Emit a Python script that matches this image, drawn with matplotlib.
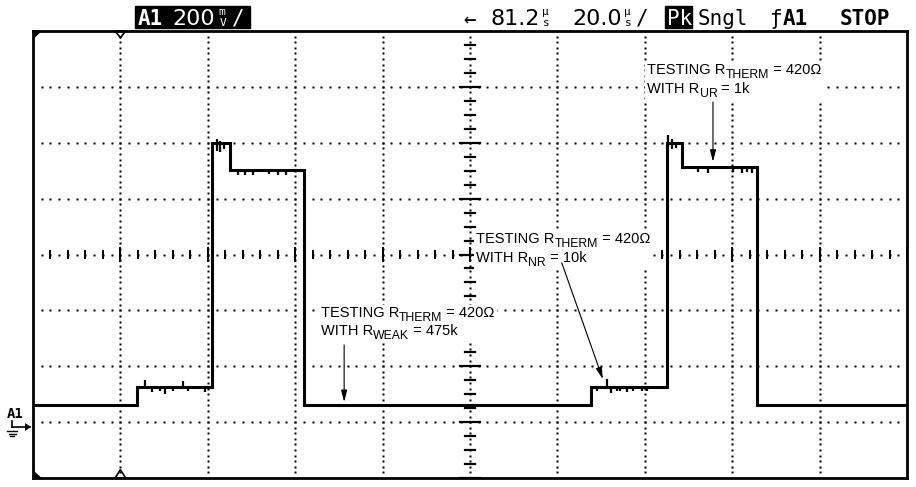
import numpy as np
import matplotlib
matplotlib.use("Agg")
import matplotlib.pyplot as plt
from matplotlib.patches import Rectangle, Polygon
from matplotlib.lines import Line2D
from matplotlib.transforms import IdentityTransform, Bbox

W, H = 916, 487

# trace, in screen divisions (10 x 8)
trace_x = [0, 1.19, 1.19, 2.05, 2.05, 2.25, 2.25, 3.10, 3.10, 6.38, 6.38, 7.25, 7.25, 7.43, 7.43, 8.28, 8.28, 10]
trace_y = [1.31, 1.31, 1.62, 1.62, 5.99, 5.99, 5.52, 5.52, 1.31, 1.31, 1.63, 1.63, 6.00, 6.00, 5.57, 5.57, 1.31, 1.31]

# glitches on the plateaus
spike_x = [1.28, 1.36, 1.45, 1.51, 1.60, 1.72, 1.77, 1.97,
           2.10, 2.14, 2.18, 2.34, 2.43, 2.52, 2.70, 2.80, 2.89,
           6.45, 6.57, 6.61, 6.68, 6.72, 6.80, 6.87, 6.97, 7.03,
           7.27, 7.31, 7.36, 7.61, 7.72, 8.01, 8.11, 8.17, 8.23]
spike_lo = [1.62, 1.54, 1.55, 1.50, 1.56, 1.62, 1.55, 1.54,
            5.86, 5.84, 5.88, 5.42, 5.42, 5.42, 5.44, 5.42, 5.43,
            1.55, 1.63, 1.53, 1.56, 1.55, 1.54, 1.56, 1.55, 1.55,
            5.90, 5.88, 5.90, 5.47, 5.46, 5.48, 5.46, 5.47, 5.46]
spike_hi = [1.76, 1.62, 1.62, 1.62, 1.62, 1.74, 1.62, 1.62,
            6.06, 6.04, 6.02, 5.52, 5.52, 5.52, 5.52, 5.52, 5.52,
            1.63, 1.78, 1.63, 1.63, 1.63, 1.63, 1.63, 1.63, 1.63,
            6.14, 6.06, 6.02, 5.57, 5.57, 5.57, 5.57, 5.57, 5.57]

# annotations: (main, subscript, tail) for each line, text x, baselines, arrow start / end
note_lines = [
    [("TESTING R", "THERM", " = 420Ω"), ("WITH R", "WEAK", " = 475k")],
    [("TESTING R", "THERM", " = 420Ω"), ("WITH R", "NR", " = 10k")],
    [("TESTING R", "THERM", " = 420Ω"), ("WITH R", "UR", " = 1k")],
]
note_x = [3.29, 5.07, 7.03]
note_base = [(2.88, 2.56), (4.20, 3.86), (7.23, 6.89)]
arrow_from = [(3.56, 2.38), (6.05, 3.85), (7.78, 6.73)]
arrow_to = [(3.56, 1.36), (6.52, 1.77), (7.78, 5.66)]

NOTE_FONT = ["Liberation Sans Narrow", "Liberation Sans", "DejaVu Sans"]
SCOPE_FONT = ["DejaVu Sans Mono", "DejaVu Sans"]


def fp(x, y):
    # pixel position -> figure fraction
    return x / W, 1 - y / H


fig = plt.figure(figsize=(W / 100, H / 100), dpi=100)
ax = fig.add_axes([33 / W, (H - 478) / H, 874 / W, 447 / H])
ax.set_xlim(0, 10)
ax.set_ylim(0, 8)
ax.set_xticks([])
ax.set_yticks([])
for s in ax.spines.values():
    s.set_linewidth(2)

# dotted graticule
dot = dict(ls="none", marker="s", ms=1.5, color="black", mec="none")
for k in range(1, 10):
    ys = np.arange(1, 80) / 10
    ax.plot(np.full(len(ys), k), ys, **dot)
for j in range(1, 8):
    xs = np.arange(1, 100) / 10
    ax.plot(xs, np.full(len(xs), j), **dot)

# centre axes with minor ticks
for i, x in enumerate(np.arange(0, 10.01, 0.2)):
    h = 0.11 if i % 5 == 0 else 0.06
    ax.plot([x, x], [4 - h, 4 + h], color="black", lw=1.4)
for i, y in enumerate(np.arange(0, 8.01, 0.25)):
    w = 0.12 if i % 4 == 0 else 0.055
    ax.plot([5 - w, 5 + w], [y, y], color="black", lw=1.6)

# trigger and corner markers
ax.add_patch(Polygon([(0.94, 8), (1.06, 8), (1, 7.88)], closed=True, fc="white", ec="black", lw=1.2, clip_on=False))
ax.add_patch(Polygon([(0.94, 0), (1.06, 0), (1, 0.15)], closed=True, fc="white", ec="black", lw=1.2, clip_on=False))
ax.add_patch(Polygon([(0, 8), (0.1, 8), (0, 7.85)], closed=True, fc="black", ec="none"))
ax.add_patch(Polygon([(0, 0), (0.1, 0), (0, 0.14)], closed=True, fc="black", ec="none"))

# the trace
ax.plot(trace_x, trace_y, color="black", lw=2.2, solid_joinstyle="miter")
ax.vlines(spike_x, spike_lo, spike_hi, color="black", lw=1.6)

# annotations, subscripts placed by hand so they stay almost full size
r = fig.canvas.get_renderer()
ident = IdentityTransform()
for lines, tx, bases, a0, a1 in zip(note_lines, note_x, note_base, arrow_from, arrow_to):
    boxes = []
    for (main, sub, tail), b in zip(lines, bases):
        px, py = ax.transData.transform((tx, b))
        for txt, dy, size in ((main, 0, 10.5), (sub, -4, 8.8), (tail, 0, 10.5)):
            t = ax.text(px, py + dy, txt, transform=ident, family=NOTE_FONT, fontsize=size,
                        va="baseline", ha="left", zorder=4)
            bb = t.get_window_extent(renderer=r)
            boxes.append(bb)
            px += bb.width
    u = Bbox.union(boxes)
    ax.add_patch(Rectangle((u.x0 - 2, u.y0 - 1), u.width + 4, u.height + 2, transform=ident,
                           fc="white", ec="none", zorder=3))
    ax.annotate("", xy=a1, xytext=a0, zorder=4,
                arrowprops=dict(arrowstyle="-|>,head_length=0.7,head_width=0.18",
                                color="black", lw=0.8, shrinkA=0, shrinkB=0))

# header bar
fig.patches.append(Rectangle(fp(135, 28), 115 / W, 22 / H, transform=fig.transFigure, color="black"))
fig.patches.append(Rectangle(fp(665, 28), 27 / W, 22 / H, transform=fig.transFigure, color="black"))

hdr = dict(family=SCOPE_FONT, fontsize=15, va="baseline", ha="left")
num = dict(family=["DejaVu Sans"], fontsize=16, va="baseline", ha="left")
small = dict(family=SCOPE_FONT, fontsize=8, va="baseline", ha="left")
fig.text(*fp(138, 25), "A1", color="white", weight="bold", **hdr)
fig.text(*fp(172, 25), "200", color="white", **num)
fig.text(*fp(218, 15), "m", color="white", **small)
fig.text(*fp(220, 26), "V", color="white", **small)
fig.text(*fp(232, 25), "/", color="white", **hdr)

fig.text(*fp(463, 25), "←", **hdr)
fig.text(*fp(490, 25), "81.2", **num)
fig.text(*fp(542, 15), "µ", **small)
fig.text(*fp(543, 26), "s", **small)
fig.text(*fp(572, 25), "20.0", **num)
fig.text(*fp(624, 15), "µ", **small)
fig.text(*fp(625, 26), "s", **small)
fig.text(*fp(636, 25), "/", **hdr)
fig.text(*fp(667, 25), "Pk", color="white", **hdr)
fig.text(*fp(698, 25), "Sngl", **hdr)
fig.text(*fp(770, 25), "ƒ", **hdr)
fig.text(*fp(783, 25), "A1", weight="bold", **hdr)
fig.text(*fp(840, 25), "STOP", weight="bold", **hdr)

# channel marker on the left
fig.text(*fp(7, 418), "A1", family=SCOPE_FONT, fontsize=10, weight="bold", va="baseline", ha="left")
fig.add_artist(Line2D([12 / W, 12 / W], [1 - 421 / H, 1 - 427 / H], color="black", lw=1.2))
fig.add_artist(Line2D([12 / W, 30 / W], [1 - 427 / H, 1 - 427 / H], color="black", lw=1.2))
fig.add_artist(Polygon([fp(31, 427), fp(25, 423), fp(25, 431)], closed=True, fc="black", ec="none",
                       transform=fig.transFigure))
for i, hw in enumerate([5, 3.5, 2]):
    y = 431 + i * 2.5
    fig.add_artist(Line2D([(12 - hw) / W, (12 + hw) / W], [1 - y / H, 1 - y / H], color="black", lw=1))

fig.savefig("out.png", dpi=100)
